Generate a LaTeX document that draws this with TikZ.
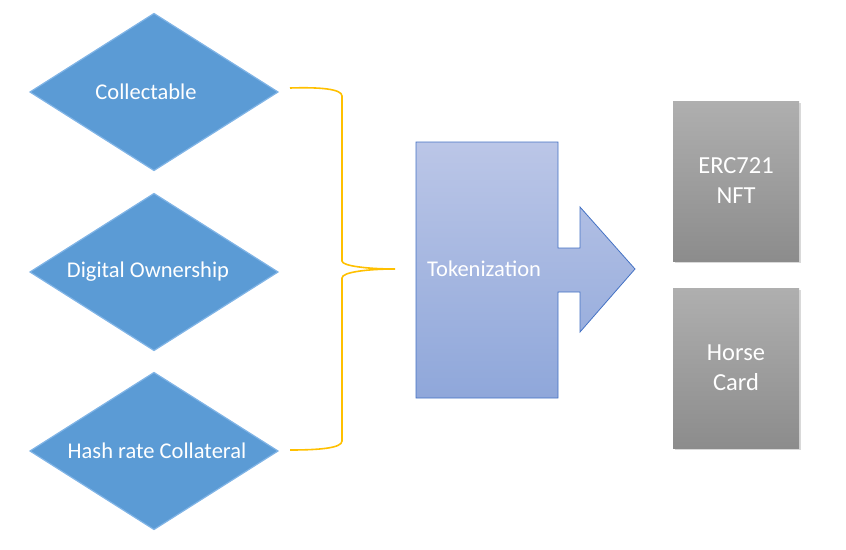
\documentclass[tikz,border=0pt]{standalone}
\usepackage{fontspec}
\setmainfont{Carlito}
\usetikzlibrary{shapes.geometric, positioning, calc, shadows}
\definecolor{usecaseblue}{RGB}{91, 155, 213}
\definecolor{usecaseedge}{RGB}{128, 180, 230}
\definecolor{bracegold}{RGB}{255, 192, 0}
\definecolor{tokentop}{RGB}{187, 198, 231}
\definecolor{tokenbottom}{RGB}{143, 167, 218}
\definecolor{tokenborder}{RGB}{68, 114, 196}
\definecolor{cardtop}{RGB}{175, 175, 175}
\definecolor{cardbottom}{RGB}{140, 140, 140}

\tikzset{
    usecase/.style={diamond, fill=usecaseblue, draw=usecaseedge, line width=1.2pt,
        minimum width=248pt, minimum height=157pt, inner sep=0pt, outer sep=0pt},
    usetext/.style={text=white, font=\fontsize{22.5}{26}\selectfont},
    cardbox/.style={rectangle, top color=cardtop, bottom color=cardbottom,
        minimum width=126pt, minimum height=160pt, inner sep=0pt, outer sep=0pt,
        align=center, text=white, font=\fontsize{24.5}{30}\selectfont,
        drop shadow={shadow xshift=1.5pt, shadow yshift=-1.5pt, opacity=0.3}}
}

\begin{document}
\begin{tikzpicture}[x=1pt, y=-1pt]
    % Page
    \useasboundingbox (0,0) rectangle (846,549);

    % Use cases
    \node[usecase] (collect) at (154,92) {};
    \node[usecase] (owner) at (154,272) {};
    \node[usecase] (hash) at (154,451) {};
    \node[usetext] (collecttext) at ($(collect.center)+(-8,0)$) {Collectable};
    \node[usetext] (ownertext) at ($(owner.center)+(-6,0)$) {Digital Ownership};
    \node[usetext] (hashtext) at ($(hash.center)+(3,0)$) {Hash rate Collateral};

    % Brace
    \coordinate (bracetip) at (395,269);
    \draw[bracegold, line width=1.6pt]
        ($(collect.east)+(12,-4)$) .. controls (320,87) and (342,89) .. (342,96)
        -- (342,261) .. controls (342,266) and (368,269) .. (bracetip)
        .. controls (368,269) and (342,272) .. (342,278)
        -- (342,441) .. controls (342,448) and (320,450) .. ($(hash.east)+(12,-1)$);

    % Tokenization arrow
    \path[draw=tokenborder, line width=0.8pt, top color=tokentop, bottom color=tokenbottom]
        (416,142) -- (558,142) -- (558,248) -- (580,248) -- (580,207) -- (635,269)
        -- (580,332) -- (580,292) -- (558,292) -- (558,398) -- (416,398) -- cycle;
    \node[text=white, font=\fontsize{22.5}{26}\selectfont, anchor=west, inner sep=0pt] (token) at (427,269) {Tokenization};

    % Outputs
    \node[cardbox] (nft) at (736,181) {ERC721\\NFT};
    \node[cardbox, below=27pt of nft] (card) {Horse\\Card};
\end{tikzpicture}
\end{document}
